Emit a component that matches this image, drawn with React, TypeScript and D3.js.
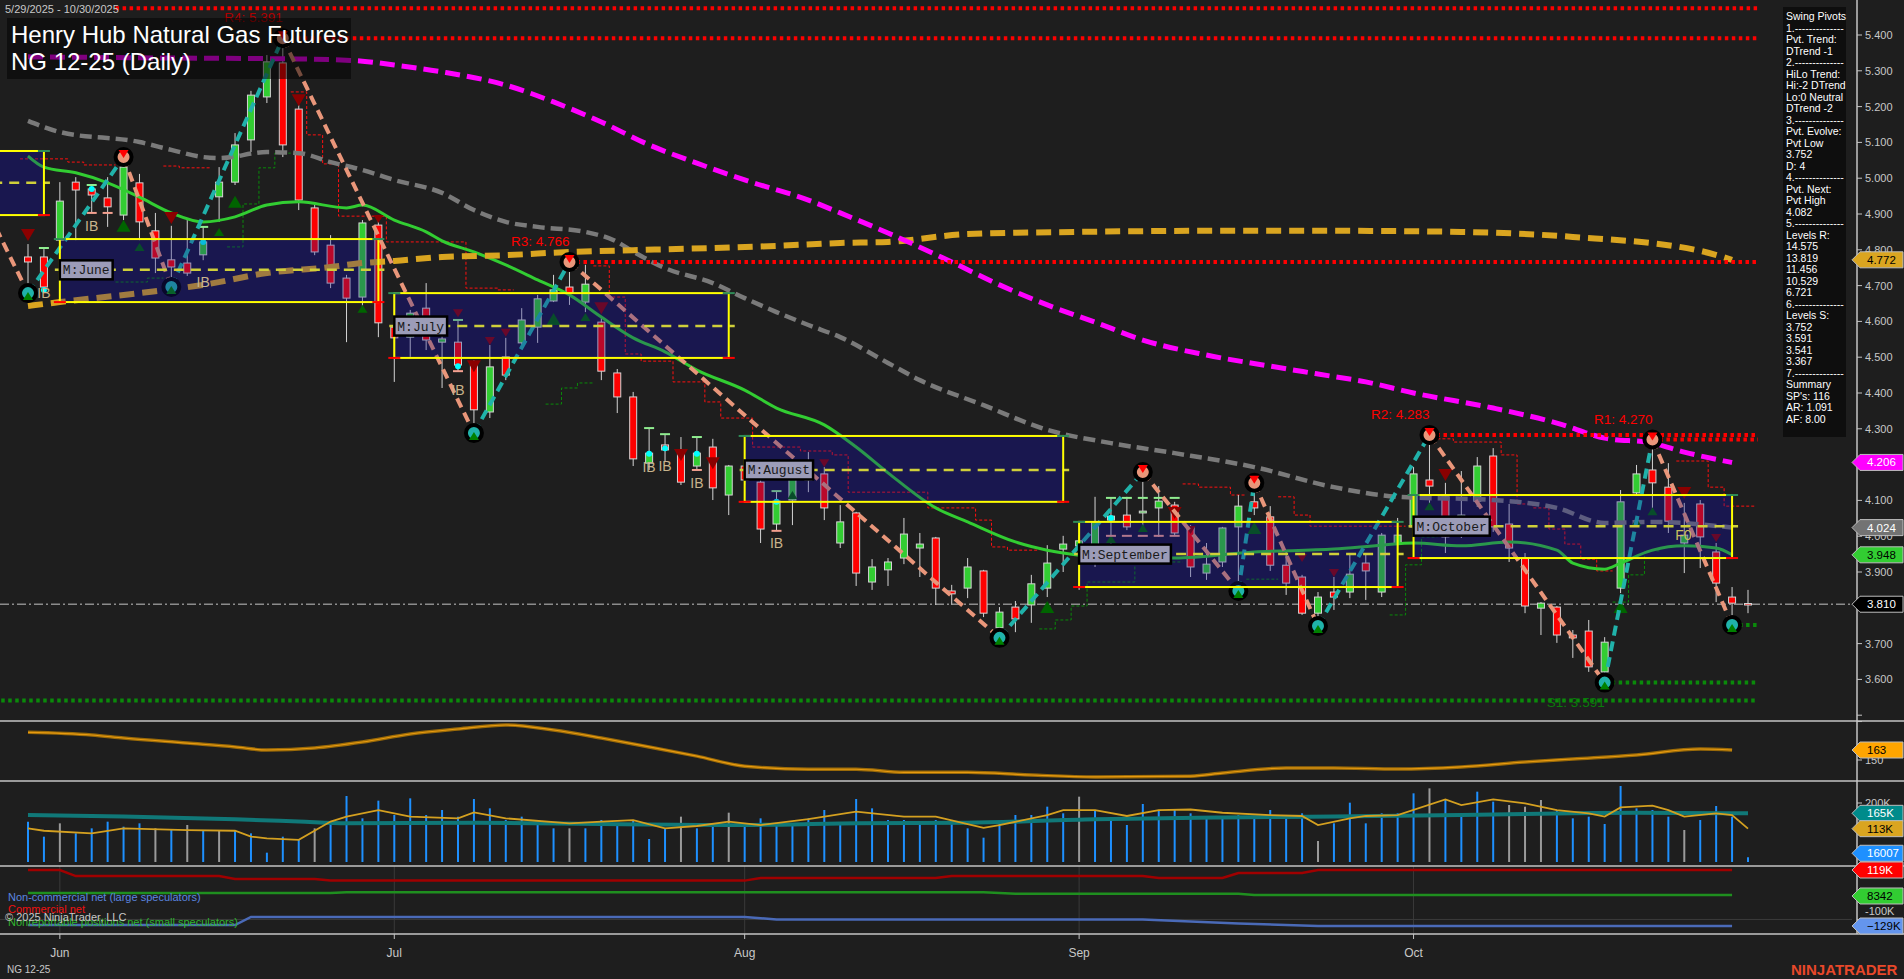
import { useEffect, useRef } from "react";
import * as d3 from "d3";

const W = 1904;
const H = 979;

// NG 12-25 daily bars, 5/29/2025 .. 10/30/2025 (bar index 0..108)
const opens = [
  4.780, 4.780, 4.827, 4.989, 4.970, 4.945, 4.897, 4.987, 4.853, 4.772,
  4.763, 4.786, 4.948, 4.989, 5.107, 5.227, 5.322, 5.193, 4.917, 4.813,
  4.721, 4.668, 4.869, 4.584, 4.556, 4.637, 4.542, 4.542, 4.487, 4.347,
  4.501, 4.540, 4.584, 4.657, 4.696, 4.654, 4.598, 4.456, 4.389, 4.204,
  4.255, 4.235, 4.196, 4.249, 4.115, 4.196, 4.151, 4.034, 4.101, 4.157,
  4.174, 3.981, 4.065, 3.872, 3.906, 3.939, 3.967, 3.995, 3.847, 3.855,
  3.903, 3.744, 3.802, 3.808, 3.855, 3.964, 3.973, 3.970, 4.045, 4.059,
  4.065, 4.079, 4.087, 4.026, 3.897, 3.928, 4.026, 4.096, 4.054, 3.919,
  3.886, 3.785, 3.844, 3.844, 3.925, 3.844, 3.978, 4.026, 4.157, 4.110,
  4.040, 4.098, 4.224, 4.034, 3.939, 3.799, 3.802, 3.724, 3.735, 3.621,
  3.855, 4.121, 4.185, 4.137, 3.981, 4.090, 3.956, 3.830, 3.812,
];
const highs = [
  4.816, 4.802, 4.989, 5.003, 4.981, 5.003, 5.059, 5.012, 4.903, 4.867,
  4.883, 4.864, 5.031, 5.126, 5.244, 5.344, 5.391, 5.204, 4.925, 4.841,
  4.730, 4.883, 4.892, 4.679, 4.632, 4.707, 4.584, 4.604, 4.492, 4.534,
  4.554, 4.637, 4.674, 4.730, 4.766, 4.758, 4.610, 4.467, 4.403, 4.302,
  4.283, 4.277, 4.277, 4.272, 4.199, 4.218, 4.165, 4.126, 4.185, 4.235,
  4.193, 4.087, 4.068, 3.936, 3.939, 4.051, 4.009, 3.998, 3.864, 3.939,
  3.906, 3.802, 3.819, 3.892, 3.975, 4.001, 4.003, 4.110, 4.107, 4.110,
  4.179, 4.140, 4.096, 4.031, 3.981, 4.026, 4.115, 4.149, 4.084, 3.956,
  3.892, 3.844, 3.886, 3.953, 3.948, 4.009, 4.051, 4.193, 4.283, 4.149,
  4.182, 4.221, 4.246, 4.090, 3.953, 3.816, 3.805, 3.738, 3.766, 3.718,
  4.129, 4.199, 4.270, 4.204, 4.093, 4.101, 3.981, 3.858, 3.850,
];
const lows = [
  4.679, 4.688, 4.791, 4.827, 4.903, 4.864, 4.883, 4.827, 4.735, 4.696,
  4.727, 4.771, 4.878, 4.981, 5.073, 5.210, 5.059, 4.911, 4.785, 4.693,
  4.542, 4.640, 4.556, 4.431, 4.501, 4.520, 4.414, 4.459, 4.288, 4.330,
  4.436, 4.534, 4.540, 4.654, 4.646, 4.626, 4.436, 4.344, 4.196, 4.185,
  4.207, 4.143, 4.185, 4.101, 4.059, 4.143, 3.981, 4.015, 4.031, 4.123,
  4.045, 3.967, 3.861, 3.850, 3.861, 3.922, 3.886, 3.808, 3.808, 3.827,
  3.774, 3.716, 3.732, 3.758, 3.830, 3.900, 3.850, 3.914, 3.975, 4.017,
  4.017, 3.998, 4.003, 3.886, 3.878, 3.914, 3.847, 4.059, 3.903, 3.836,
  3.780, 3.749, 3.794, 3.827, 3.822, 3.830, 3.961, 4.017, 4.087, 3.953,
  3.995, 4.082, 4.012, 3.928, 3.785, 3.724, 3.702, 3.660, 3.621, 3.590,
  3.841, 4.115, 4.073, 4.009, 3.897, 3.911, 3.816, 3.752, 3.785,
];
const closes = [
  4.766, 4.696, 4.936, 4.967, 4.953, 4.920, 5.031, 4.878, 4.777, 4.752,
  4.735, 4.822, 4.989, 5.093, 5.232, 5.325, 5.093, 4.939, 4.794, 4.707,
  4.665, 4.875, 4.596, 4.554, 4.623, 4.548, 4.551, 4.478, 4.353, 4.473,
  4.450, 4.604, 4.663, 4.688, 4.679, 4.704, 4.461, 4.389, 4.216, 4.232,
  4.241, 4.151, 4.232, 4.135, 4.196, 4.157, 4.020, 4.098, 4.165, 4.177,
  4.079, 4.040, 3.897, 3.914, 3.928, 4.006, 3.978, 3.855, 3.839, 3.914,
  3.785, 3.788, 3.769, 3.867, 3.925, 3.978, 3.987, 4.040, 4.056, 4.026,
  4.070, 4.098, 4.009, 3.914, 3.922, 4.023, 4.084, 4.079, 3.919, 3.869,
  3.785, 3.830, 3.830, 3.894, 3.903, 4.003, 4.003, 4.174, 4.140, 3.998,
  4.059, 4.196, 4.026, 3.967, 3.805, 3.813, 3.724, 3.716, 3.635, 3.704,
  4.096, 4.174, 4.149, 4.042, 4.003, 3.998, 3.869, 3.813, 3.810,
];

const monthLabels = ["Jun", "Jul", "Aug", "Sep", "Oct"];
const monthBars = [2, 23, 45, 66, 87];

// moving averages: [bar, price]
const maGreen = [
  [0, 5.062], [1, 5.031], [3, 5.015], [5, 4.987], [7, 4.947], [9, 4.903], [11, 4.878], [13, 4.892],
  [15, 4.925], [17, 4.934], [20, 4.917], [21, 4.925], [23, 4.883], [25, 4.850], [26, 4.825], [28, 4.794],
  [30, 4.758], [32, 4.716], [34, 4.674], [36, 4.612], [38, 4.554], [40, 4.515], [42, 4.464], [45, 4.408],
  [47, 4.358], [50, 4.311], [52, 4.249], [54, 4.177], [57, 4.079], [59, 4.040], [62, 3.984], [64, 3.961],
  [66, 3.947], [68, 3.939], [72, 3.939], [77, 3.956], [82, 3.964], [85, 3.975], [87, 3.981], [90, 3.973],
  [93, 3.984], [96, 3.961], [97, 3.925], [99, 3.908], [100, 3.925], [102, 3.961], [104, 3.973], [106, 3.967],
  [107, 3.948],
];
const maGray = [
  [0, 5.160], [2, 5.129], [7, 5.101], [9, 5.079], [11, 5.059], [12, 5.056], [15, 5.073], [17, 5.070],
  [19, 5.045], [21, 5.023], [23, 4.995], [26, 4.959], [28, 4.911], [30, 4.878], [32, 4.864], [35, 4.850],
  [37, 4.822], [38, 4.795], [40, 4.749], [43, 4.707], [45, 4.665], [47, 4.626], [49, 4.590], [51, 4.556],
  [54, 4.484], [56, 4.436], [60, 4.366], [64, 4.297], [68, 4.260], [72, 4.232], [77, 4.193], [82, 4.137],
  [86, 4.110], [92, 4.101], [96, 4.079], [99, 4.037], [102, 4.040], [107, 4.024],
];
const maGold = [
  [0, 4.643], [2, 4.654], [7, 4.679], [11, 4.702], [15, 4.735], [19, 4.752], [21, 4.763], [23, 4.769],
  [26, 4.780], [30, 4.785], [34, 4.794], [38, 4.799], [43, 4.805], [47, 4.811], [51, 4.819], [54, 4.822],
  [59, 4.844], [66, 4.850], [74, 4.853], [82, 4.853], [90, 4.850], [97, 4.836], [105, 4.797], [107, 4.772],
];
const maMagenta = [
  [0, 5.339], [8, 5.336], [17, 5.333], [21, 5.327], [23, 5.316], [26, 5.297], [30, 5.260], [33, 5.213],
  [36, 5.157], [39, 5.093], [42, 5.042], [45, 4.995], [49, 4.939], [51, 4.903], [54, 4.847], [58, 4.766],
  [61, 4.702], [64, 4.646], [67, 4.598], [70, 4.548], [74, 4.506], [78, 4.475], [81, 4.453], [84, 4.431],
  [87, 4.400], [92, 4.358], [96, 4.316], [99, 4.274], [102, 4.260], [104, 4.235], [107, 4.206],
];

// trailing stops (steps between bars)
const redStops = [
  [[-0.5, 5.054], [2.5, 5.045], [3.5, 5.037], [5.5, 5.037]],
  [[8.5, 5.034], [9.5, 5.029], [11.5, 5.029]],
  [[16.5, 5.241], [17.5, 5.121], [18.5, 5.040], [19.5, 4.894], [22.5, 4.822], [27.5, 4.693], [29.5, 4.688], [30.5, 4.688]],
  [[35.5, 4.755], [36.5, 4.668], [37.5, 4.509], [38.5, 4.489], [40.5, 4.431], [42.5, 4.375], [43.5, 4.330], [45.5, 4.249],
    [48.5, 4.238], [50.5, 4.227], [51.5, 4.123], [56.5, 4.079], [59.5, 4.045], [60.5, 3.970], [61.5, 3.961], [63.5, 3.961]],
  [[72.5, 4.146], [73.5, 4.137], [75.5, 4.115], [76.5, 4.115]],
  [[78.5, 4.110], [79.5, 4.059], [80.5, 4.028], [86.5, 4.028]],
  [[88.5, 4.272], [89.5, 4.263], [92.5, 4.227], [93.5, 4.090], [94.5, 4.079], [95.5, 4.020], [96.5, 3.978], [97.5, 3.936],
    [98.5, 3.903], [99.5, 3.903]],
  [[103.5, 4.210], [105.5, 4.137], [106.5, 4.084], [108.5, 4.084]],
];
const greenStops = [
  [[5.5, 4.710], [7.5, 4.721], [8.5, 4.721]],
  [[12.5, 4.808], [13.5, 4.928], [14.5, 5.029], [15.5, 5.070], [16.5, 5.070]],
  [[32.5, 4.369], [33.5, 4.414], [34.5, 4.428], [35.5, 4.428]],
  [[63.5, 3.741], [64.5, 3.766], [65.5, 3.805], [66.5, 3.872], [69.5, 3.928], [72.5, 3.928]],
  [[76.5, 3.880], [78.5, 3.880]],
  [[85.5, 3.780], [86.5, 3.920], [87.5, 3.998], [88.5, 3.998]],
  [[99.5, 3.816], [100.5, 3.892], [101.5, 3.959], [102.5, 3.959]],
];

// swing zigzag
const pivotBars = [-2, 0, 6, 9, 16, 28, 34, 61, 70, 76, 77, 81, 88, 99, 102, 107];
const pivotPrices = [4.86, 4.679, 5.059, 4.696, 5.391, 4.288, 4.766, 3.716, 4.179, 3.847, 4.149, 3.749, 4.283, 3.591, 4.270, 3.752];

// swing levels
const levelNames = ["", "R4: 5.391", "R3: 4.766", "R2: 4.283", "R1: 4.270", "S1: 3.591", "", ""];
const levelPrices = [5.475, 5.391, 4.766, 4.283, 4.270, 3.591, 3.541, 3.752];
const levelFrom = [5.5, 16, 34, 88, 102, 99, -3, 107];
const levelSide = ["R", "R", "R", "R", "R", "S", "S", "S"];

// monthly value boxes
const boxNames = ["", "M:June", "M:July", "M:August", "M:September", "M:October"];
const boxFrom = [-3, 2, 23, 45, 66, 87];
const boxTo = [1, 22, 44, 65, 86, 107];
const boxHigh = [5.076, 4.830, 4.679, 4.280, 4.040, 4.115];
const boxLow = [4.897, 4.654, 4.498, 4.096, 3.858, 3.939];
const boxMid = [4.987, 4.744, 4.587, 4.185, 3.950, 4.028];

// signals: [bar, price, strong]
const sigDown = [
  [0, 4.841, 1], [9, 4.889, 1], [17, 5.218, 1], [22, 4.886, 0], [27, 4.623, 0], [28, 4.475, 1], [29, 4.545, 0],
  [30, 4.568, 0], [36, 4.637, 1], [41, 4.227, 1], [43, 4.204, 1], [50, 4.204, 0], [72, 4.065, 1], [73, 4.017, 0],
  [80, 3.939, 0], [82, 3.897, 0], [89, 4.171, 1], [104, 4.121, 1], [106, 3.995, 0],
];
const sigUp = [
  [6, 4.867, 1], [7, 4.808, 0], [12, 4.850, 0], [13, 4.934, 1], [21, 4.635, 0], [33, 4.607, 1], [35, 4.612, 0],
  [48, 4.115, 0], [64, 3.802, 1], [68, 3.992, 0], [70, 4.023, 0], [77, 4.023, 1], [88, 4.084, 0], [100, 3.802, 1],
  [101, 4.040, 0], [102, 4.070, 0],
];
const ibBars = [[1, 4.679], [4, 4.866], [11, 4.710], [27, 4.408], [39, 4.193], [40, 4.196], [42, 4.149], [47, 3.981]];
const ibDots = [[1, 4.688], [4, 4.970], [11, 4.822], [27, 4.475], [39, 4.230], [40, 4.246], [42, 4.230], [47, 4.096], [68, 4.051]];
const ibHi = [[1, 4.805], [4, 4.981], [11, 4.864], [27, 4.604], [39, 4.302], [40, 4.285], [42, 4.277], [47, 4.126],
  [68, 4.107], [69, 4.107], [70, 4.107], [71, 4.107], [72, 4.107]];
const ibLo = [[4, 4.903], [5, 4.903], [27, 4.461], [42, 4.185], [47, 4.015],
  [68, 4.001], [69, 4.001], [70, 4.001], [71, 4.001], [72, 4.001]];

// lower panel: oscillator
const oscValues = [
  [0, 186], [4, 182.5], [6, 178.6], [10, 172], [13, 167], [15, 163], [18, 165.6], [21, 173.4], [24, 183.8],
  [27, 190.3], [30, 195.5], [33, 189], [36, 178.6], [39, 167], [42, 155], [45, 142], [49, 138], [52, 138],
  [55, 134], [59, 134], [63, 130.5], [67, 128], [73, 129], [75, 133], [79, 139.6], [82, 139.6], [86, 138.3],
  [90, 141], [94, 147.4], [97, 151.3], [101, 156.5], [105, 164.3], [107, 163],
];

// volume (thousands)
const volumes = [
  136.7, 85.9, 131.1, 97.2, 114.1, 136.7, 119.8, 131.1, 114.1, 108.5,
  125.4, 108.5, 108.5, 108.5, 97.2, 31.6, 85.9, 74.6, 114.1, 136.7,
  223.7, 148.0, 207.9, 159.3, 215.8, 159.3, 176.3, 153.7, 213.6, 181.9,
  142.4, 153.7, 125.4, 114.1, 114.1, 114.1, 142.4, 131.1, 142.4, 78.0,
  114.1, 153.7, 114.1, 119.8, 167.2, 131.1, 148.0, 131.1, 125.4, 148.0,
  176.3, 125.4, 213.6, 181.9, 142.4, 142.4, 136.7, 142.4, 131.1, 114.1,
  82.5, 136.7, 159.3, 159.3, 187.6, 165.0, 221.5, 176.3, 148.0, 125.4,
  196.6, 176.3, 176.3, 165.0, 148.0, 148.0, 159.3, 148.0, 176.3, 159.3,
  165.0, 71.2, 131.1, 201.1, 131.1, 165.0, 165.0, 232.8, 249.7, 212.4,
  165.0, 238.4, 204.5, 193.2, 187.6, 210.2, 176.3, 148.0, 153.7, 128.8,
  257.6, 181.9, 176.3, 153.7, 108.5, 142.4, 189.8, 153.7, 16.0,
];
const volGrayBars = [2, 8, 10, 12, 18, 34, 41, 44, 66, 81, 88, 93, 94, 95, 104];
const volFast = [
  [0, 114], [1, 106], [4, 97], [6, 114], [10, 108], [13, 106], [14, 86], [15, 80], [17, 75], [19, 137], [20, 154],
  [22, 176], [24, 154], [27, 148], [28, 168], [30, 148], [34, 131], [36, 137], [38, 142], [40, 114], [42, 122],
  [44, 137], [46, 125], [49, 145], [52, 171], [55, 154], [57, 154], [60, 116], [61, 125], [64, 159], [65, 176],
  [67, 176], [69, 156], [71, 176], [73, 178], [75, 167], [78, 159], [80, 156], [81, 125], [83, 148], [84, 156],
  [86, 159], [89, 212], [90, 193], [92, 212], [94, 199], [96, 176], [98, 165], [99, 154], [100, 185], [102, 191],
  [103, 176], [104, 154], [106, 165], [107, 159], [108, 113],
];
const volSlow = [
  [0, 159], [6, 154], [13, 145], [17, 137], [20, 131], [28, 133], [36, 129], [44, 125], [52, 131], [59, 133],
  [67, 145], [75, 151], [82, 154], [90, 159], [97, 165], [101, 167], [108, 165],
];

// COT (thousands of contracts)
const cotCommercial = [
  [0, 119], [2, 119], [3, 92], [12, 92], [13, 79], [18, 79], [19, 72], [45, 72], [46, 84], [57, 84], [58, 92],
  [70, 92], [71, 84], [75, 84], [76, 106], [80, 106], [81, 119], [107, 119],
];
const cotSmall = [[0, 17], [19, 17], [20, 21], [60, 21], [62, 14], [76, 14], [77, 8.3], [107, 8.3]];
const cotNonCommercial = [
  [0, -125], [13, -125], [14, -89], [45, -89], [47, -100], [70, -100], [76, -118], [81, -129], [107, -129],
];

const swingLines = [
  "Swing Pivots", "1.--------------", "Pvt. Trend:", "DTrend -1", "2.--------------", "HiLo Trend:",
  "Hi:-2 DTrend", "Lo:0 Neutral", "DTrend -2", "3.--------------", "Pvt. Evolve:", "Pvt Low", "3.752", "D: 4",
  "4.--------------", "Pvt. Next:", "Pvt High", "4.082", "5.--------------", "Levels R:", "14.575", "13.819",
  "11.456", "10.529", "6.721", "6.--------------", "Levels S:", "3.752", "3.591", "3.541", "3.367",
  "7.--------------", "Summary", "SP's: 116", "AR: 1.091", "AF: 8.00",
];

const draw = (el: SVGSVGElement) => {
  const svg = d3.select(el);
  svg.selectAll("*").remove();
  const font = "'Liberation Sans', Arial, sans-serif";
  const axisX = 1857;
  const pBot = 721;

  svg.append("rect").attr("width", W).attr("height", H).attr("fill", "#1e1e1e");

  const x = d3.scaleLinear().domain([0, 108]).range([28, 1748]);
  const y = d3.scaleLinear().domain([3.6, 5.4]).range([679.4, 35]);

  const defs = svg.append("defs");
  defs.append("clipPath").attr("id", "clipP").append("rect")
    .attr("x", 0).attr("y", 0).attr("width", axisX).attr("height", pBot);

  const g = svg.append("g").attr("clip-path", "url(#clipP)");

  const boxes = boxFrom.map((f, k) => ({
    f, t: boxTo[k], hi: boxHigh[k], lo: boxLow[k], mid: boxMid[k], name: boxNames[k],
  }));

  g.append("g").selectAll("rect").data(boxes).join("rect")
    .attr("x", (d) => x(d.f)).attr("y", (d) => y(d.hi))
    .attr("width", (d) => x(d.t) - x(d.f)).attr("height", (d) => y(d.lo) - y(d.hi))
    .attr("fill", "#191636");

  // trailing stops
  const stepLine = d3.line<number[]>().x((d) => x(d[0])).y((d) => y(d[1])).curve(d3.curveStepAfter);
  redStops.forEach((s) =>
    g.append("path").attr("d", stepLine(s)).attr("fill", "none")
      .attr("stroke", "#ff1010").attr("stroke-width", 1).attr("stroke-dasharray", "3,2"));
  greenStops.forEach((s) =>
    g.append("path").attr("d", stepLine(s)).attr("fill", "none")
      .attr("stroke", "#0a8a0a").attr("stroke-width", 1).attr("stroke-dasharray", "3,2"));

  // last price
  g.append("line").attr("x1", 0).attr("x2", axisX).attr("y1", y(closes[closes.length - 1]))
    .attr("y2", y(closes[closes.length - 1])).attr("stroke", "#8c8c8c").attr("stroke-width", 1.5)
    .attr("stroke-dasharray", "9,3,2,3");

  // candles
  const bars = opens.map((o, i) => ({ i, o, h: highs[i], l: lows[i], c: closes[i] }));
  g.append("g").selectAll("line").data(bars).join("line")
    .attr("x1", (d) => x(d.i)).attr("x2", (d) => x(d.i))
    .attr("y1", (d) => y(d.h)).attr("y2", (d) => y(d.l))
    .attr("stroke", "#d4d4d4").attr("stroke-width", 1);
  g.append("g").selectAll("rect").data(bars).join("rect")
    .attr("x", (d) => x(d.i) - 3.5).attr("width", 7)
    .attr("y", (d) => y(Math.max(d.o, d.c)))
    .attr("height", (d) => Math.max(1.5, Math.abs(y(d.o) - y(d.c))))
    .attr("fill", (d) => (d.c >= d.o ? "#32cd32" : "#ff0000"))
    .attr("stroke", "#d4d4d4").attr("stroke-width", 1);

  // moving averages
  const maLine = d3.line<number[]>().x((d) => x(d[0])).y((d) => y(d[1])).curve(d3.curveMonotoneX);
  g.append("path").attr("d", maLine(maGreen)).attr("fill", "none").attr("stroke", "#32cd32").attr("stroke-width", 3);
  g.append("path").attr("d", maLine(maGray)).attr("fill", "none").attr("stroke", "#7a7a7a")
    .attr("stroke-width", 4.5).attr("stroke-dasharray", "12,6");
  g.append("path").attr("d", maLine(maGold)).attr("fill", "none").attr("stroke", "#daa520")
    .attr("stroke-width", 6).attr("stroke-dasharray", "15,8");
  g.append("path").attr("d", maLine(maMagenta)).attr("fill", "none").attr("stroke", "#ff00ff")
    .attr("stroke-width", 5).attr("stroke-dasharray", "15,7");

  // levels
  levelPrices.forEach((p, k) => {
    g.append("line").attr("x1", x(levelFrom[k])).attr("x2", x(108) + 10)
      .attr("y1", y(p)).attr("y2", y(p))
      .attr("stroke", levelSide[k] === "R" ? "#ff0000" : "#0a8a0a")
      .attr("stroke-width", 4).attr("stroke-dasharray", "3.5,3.5");
  });

  // signals
  const tri = (cx: number, cy: number, big: number, down: boolean) => {
    const w = big ? 7 : 5;
    const h = big ? 12 : 8;
    return down
      ? `M${cx - w},${cy - h / 2}L${cx + w},${cy - h / 2}L${cx},${cy + h / 2}Z`
      : `M${cx - w},${cy + h / 2}L${cx + w},${cy + h / 2}L${cx},${cy - h / 2}Z`;
  };
  g.append("g").selectAll("path").data(sigDown).join("path")
    .attr("d", (d) => tri(x(d[0]), y(d[1]), d[2], true)).attr("fill", "#8b0000");
  g.append("g").selectAll("path").data(sigUp).join("path")
    .attr("d", (d) => tri(x(d[0]), y(d[1]), d[2], false)).attr("fill", "#006400");

  // IB marks
  g.append("g").selectAll("line").data(ibHi).join("line")
    .attr("x1", (d) => x(d[0]) - 5).attr("x2", (d) => x(d[0]) + 5)
    .attr("y1", (d) => y(d[1])).attr("y2", (d) => y(d[1]))
    .attr("stroke", "#90ee90").attr("stroke-width", 2);
  g.append("g").selectAll("line").data(ibLo).join("line")
    .attr("x1", (d) => x(d[0]) - 5).attr("x2", (d) => x(d[0]) + 5)
    .attr("y1", (d) => y(d[1])).attr("y2", (d) => y(d[1]))
    .attr("stroke", "#f4a090").attr("stroke-width", 2);
  g.append("g").selectAll("circle").data(ibDots).join("circle")
    .attr("cx", (d) => x(d[0])).attr("cy", (d) => y(d[1])).attr("r", 3).attr("fill", "#00ffff");

  // zigzag
  for (let k = 0; k < pivotBars.length - 1; k++) {
    const up = pivotPrices[k + 1] > pivotPrices[k];
    g.append("line")
      .attr("x1", x(pivotBars[k])).attr("y1", y(pivotPrices[k]))
      .attr("x2", x(pivotBars[k + 1])).attr("y2", y(pivotPrices[k + 1]))
      .attr("stroke", up ? "#20b2aa" : "#e9967a").attr("stroke-width", 4)
      .attr("stroke-dasharray", "10,6");
  }
  for (let k = 1; k < pivotBars.length; k++) {
    const hi = pivotPrices[k] > pivotPrices[k - 1];
    const cx = x(pivotBars[k]);
    const cy = y(pivotPrices[k]);
    g.append("circle").attr("cx", cx).attr("cy", cy).attr("r", 8)
      .attr("fill", hi ? "#e9967a" : "#20b2aa").attr("stroke", "#000").attr("stroke-width", 4);
    g.append("path").attr("d", tri(cx, hi ? cy - 3 : cy + 3, 0, hi)).attr("fill", hi ? "#ff0000" : "#008000");
  }

  // box overlay
  g.append("g").selectAll("rect").data(boxes).join("rect")
    .attr("x", (d) => x(d.f)).attr("y", (d) => y(d.hi))
    .attr("width", (d) => x(d.t) - x(d.f)).attr("height", (d) => y(d.lo) - y(d.hi))
    .attr("fill", "#1c1c8c").attr("fill-opacity", 0.3);
  boxes.forEach((b) => {
    const x0 = x(b.f), x1 = x(b.t), y0 = y(b.hi), y1 = y(b.lo);
    g.append("line").attr("x1", x0 - 5).attr("x2", x1 + 6).attr("y1", y(b.mid)).attr("y2", y(b.mid))
      .attr("stroke", "#cfcf3a").attr("stroke-width", 2.5).attr("stroke-dasharray", "10,7");
    g.append("rect").attr("x", x0).attr("y", y0).attr("width", x1 - x0).attr("height", y1 - y0)
      .attr("fill", "none").attr("stroke", "#ffff00").attr("stroke-width", 2);
    [x0, x1].forEach((xx) => {
      g.append("line").attr("x1", xx - 6).attr("x2", xx + 6).attr("y1", y0).attr("y2", y0)
        .attr("stroke", "#2e8b57").attr("stroke-width", 2);
      g.append("line").attr("x1", xx - 6).attr("x2", xx + 6).attr("y1", y1).attr("y2", y1)
        .attr("stroke", "#ff0000").attr("stroke-width", 2);
    });
    if (b.name) {
      const tw = b.name.length * 7.8 + 6;
      g.append("rect").attr("x", x0).attr("y", y(b.mid) - 9.5).attr("width", tw).attr("height", 19)
        .attr("fill", "#9c9cb8").attr("stroke", "#000").attr("stroke-width", 2.5);
      g.append("text").attr("x", x0 + 3).attr("y", y(b.mid) + 4.5).text(b.name)
        .attr("font-family", "'Liberation Mono', 'DejaVu Sans Mono', monospace").attr("font-size", 13)
        .attr("fill", "#1a1a1a");
    }
  });

  // IB labels
  g.append("g").selectAll("text").data(ibBars).join("text")
    .attr("x", (d) => x(d[0])).attr("y", (d) => y(d[1]) + 5).attr("text-anchor", "middle")
    .text("IB").attr("font-family", font).attr("font-size", 14).attr("fill", "#c8b48c");

  g.append("text").attr("x", x(104) - 9).attr("y", y(3.99)).text("F0")
    .attr("font-family", font).attr("font-size", 14).attr("fill", "#c8c060");

  // level labels
  levelNames.forEach((n, k) => {
    if (!n) return;
    const isR = levelSide[k] === "R";
    g.append("text").attr("x", x(levelFrom[k])).attr("y", isR ? y(levelPrices[k]) - 16 : y(levelPrices[k]) + 24)
      .attr("text-anchor", "end").text(n).attr("font-family", font).attr("font-size", 13.5)
      .attr("fill", isR ? (k === 1 ? "#b00000" : "#ff0000") : "#0a7a0a");
  });

  // title block
  svg.append("rect").attr("x", 7).attr("y", 18).attr("width", 344).attr("height", 61)
    .attr("fill", "#000").attr("fill-opacity", 0.5);
  svg.append("text").attr("x", 11).attr("y", 43).text("Henry Hub Natural Gas Futures")
    .attr("font-family", font).attr("font-size", 24).attr("fill", "#fff");
  svg.append("text").attr("x", 11).attr("y", 70).text("NG 12-25 (Daily)")
    .attr("font-family", font).attr("font-size", 24).attr("fill", "#fff");
  svg.append("text").attr("x", 5).attr("y", 13).text("5/29/2025 - 10/30/2025")
    .attr("font-family", font).attr("font-size", 11).attr("fill", "#c8c8c8");

  // swing pivots panel
  svg.append("rect").attr("x", 1783).attr("y", 7).attr("width", 63).attr("height", 430).attr("fill", "#0e0e0e");
  svg.append("g").selectAll("text").data(swingLines).join("text")
    .attr("x", 1786).attr("y", (d, i) => 20 + i * 11.5).text((d) => d)
    .attr("font-family", font).attr("font-size", 10.5).attr("fill", "#fff");

  // lower panels
  const yOsc = d3.scaleLinear().domain([150, 163]).range([760, 750]);
  const yVol = d3.scaleLinear().domain([0, 200]).range([862, 803]);
  const yCot = d3.scaleLinear().domain([-129, 119]).range([926, 870]);

  monthBars.forEach((m) => {
    svg.append("line").attr("x1", x(m)).attr("x2", x(m)).attr("y1", 866).attr("y2", 934)
      .attr("stroke", "#3a3a3a").attr("stroke-width", 1);
  });
  svg.append("line").attr("x1", 0).attr("x2", 1852).attr("y1", yCot(-100)).attr("y2", yCot(-100))
    .attr("stroke", "#3c3c3c").attr("stroke-width", 1);

  const oscLine = d3.line<number[]>().x((d) => x(d[0])).y((d) => yOsc(d[1])).curve(d3.curveMonotoneX);
  svg.append("path").attr("d", oscLine(oscValues)).attr("fill", "none").attr("stroke", "#9a6a08").attr("stroke-width", 3.5);
  svg.append("path").attr("d", oscLine(oscValues)).attr("fill", "none").attr("stroke", "#e89a10").attr("stroke-width", 1.2);

  svg.append("g").selectAll("line").data(volumes).join("line")
    .attr("x1", (d, i) => x(i)).attr("x2", (d, i) => x(i))
    .attr("y1", yVol(0)).attr("y2", (d) => yVol(d))
    .attr("stroke", (d, i) => (volGrayBars.includes(i) ? "#9a9a9a" : "#1e90ff")).attr("stroke-width", 2);
  const volLine = d3.line<number[]>().x((d) => x(d[0])).y((d) => yVol(d[1]));
  svg.append("path").attr("d", volLine.curve(d3.curveMonotoneX)(volSlow)).attr("fill", "none")
    .attr("stroke", "#107878").attr("stroke-width", 4);
  svg.append("path").attr("d", volLine.curve(d3.curveLinear)(volFast)).attr("fill", "none")
    .attr("stroke", "#d4a020").attr("stroke-width", 1.8);

  const cotLine = d3.line<number[]>().x((d) => x(d[0])).y((d) => yCot(d[1]));
  svg.append("path").attr("d", cotLine(cotCommercial)).attr("fill", "none").attr("stroke", "#a00000").attr("stroke-width", 2.5);
  svg.append("path").attr("d", cotLine(cotSmall)).attr("fill", "none").attr("stroke", "#1f8f1f").attr("stroke-width", 2.5);
  svg.append("path").attr("d", cotLine(cotNonCommercial)).attr("fill", "none").attr("stroke", "#4a6ab8").attr("stroke-width", 2.5);

  svg.append("text").attr("x", 8).attr("y", 901).text("Non-commercial net (large speculators)")
    .attr("font-family", font).attr("font-size", 11).attr("fill", "#5b86e0");
  svg.append("text").attr("x", 8).attr("y", 913).text("Commercial net")
    .attr("font-family", font).attr("font-size", 11).attr("fill", "#ee1010");
  svg.append("text").attr("x", 8).attr("y", 926).text("Nonreportable positions net (small speculators)")
    .attr("font-family", font).attr("font-size", 11).attr("fill", "#2fb52f");
  svg.append("text").attr("x", 5).attr("y", 921).text("© 2025 NinjaTrader, LLC")
    .attr("font-family", font).attr("font-size", 11).attr("fill", "#c8c8c8");

  // separators and axes
  [721, 781, 866, 934].forEach((yy) =>
    svg.append("line").attr("x1", 0).attr("x2", W).attr("y1", yy).attr("y2", yy)
      .attr("stroke", "#c4c4c4").attr("stroke-width", 1.5));
  svg.append("line").attr("x1", axisX).attr("x2", axisX).attr("y1", 0).attr("y2", 934)
    .attr("stroke", "#c4c4c4").attr("stroke-width", 1.5);

  const priceTicks = d3.range(3.5, 5.41, 0.1);
  priceTicks.forEach((t) => {
    svg.append("line").attr("x1", axisX).attr("x2", axisX + 5).attr("y1", y(t)).attr("y2", y(t))
      .attr("stroke", "#c4c4c4");
    if (y(t) < 705)
      svg.append("text").attr("x", 1865).attr("y", y(t) + 4).text(d3.format(".3f")(t))
        .attr("font-family", font).attr("font-size", 11).attr("fill", "#c8c8c8");
  });
  [[yOsc(150), "150", 4], [yOsc(200), "", 0], [yVol(200), "200K", 4], [yCot(100), "100K", 4], [yCot(-100), "-100K", -4]]
    .forEach(([yy, t, dy]) => {
      svg.append("line").attr("x1", axisX).attr("x2", axisX + 5).attr("y1", yy).attr("y2", yy).attr("stroke", "#c4c4c4");
      if (t) svg.append("text").attr("x", 1865).attr("y", +yy + +dy).text(t as string)
        .attr("font-family", font).attr("font-size", 11).attr("fill", "#c8c8c8");
    });

  monthBars.forEach((m, k) => {
    svg.append("line").attr("x1", x(m)).attr("x2", x(m)).attr("y1", 934).attr("y2", 939).attr("stroke", "#c4c4c4");
    svg.append("text").attr("x", x(m)).attr("y", 957).attr("text-anchor", "middle").text(monthLabels[k])
      .attr("font-family", font).attr("font-size", 12).attr("fill", "#c8c8c8");
  });
  svg.append("text").attr("x", 7).attr("y", 973).text("NG 12-25")
    .attr("font-family", font).attr("font-size", 10).attr("fill", "#c8c8c8");
  svg.append("text").attr("x", 1791).attr("y", 975).text("NINJATRADER")
    .attr("font-family", font).attr("font-size", 15).attr("font-weight", 700).attr("fill", "#e8482a");

  // value flags
  const flag = (yy: number, text: string, bg: string, fg: string) => {
    svg.append("path")
      .attr("d", `M${axisX - 5},${yy}L${axisX + 3},${yy - 8}L${W - 1},${yy - 8}L${W - 1},${yy + 8}L${axisX + 3},${yy + 8}Z`)
      .attr("fill", bg).attr("stroke", "#bdbdbd").attr("stroke-width", 1);
    svg.append("text").attr("x", 1867).attr("y", yy + 4).text(text)
      .attr("font-family", font).attr("font-size", 11.5).attr("fill", fg);
  };
  const last = (a: number[][]) => a[a.length - 1][1];
  flag(y(last(maGold)), d3.format(".3f")(last(maGold)), "#daa520", "#000");
  flag(y(last(maMagenta)), d3.format(".3f")(last(maMagenta)), "#ff00ff", "#fff");
  flag(y(last(maGray)), d3.format(".3f")(last(maGray)), "#737373", "#fff");
  flag(y(last(maGreen)), d3.format(".3f")(last(maGreen)), "#32cd32", "#000");
  flag(y(closes[closes.length - 1]), d3.format(".3f")(closes[closes.length - 1]), "#000", "#fff");
  flag(yOsc(last(oscValues)), d3.format(".0f")(last(oscValues)), "#ffa500", "#000");
  flag(yVol(last(volSlow)), `${d3.format(".0f")(last(volSlow))}K`, "#008b8b", "#fff");
  flag(yVol(last(volFast)), `${d3.format(".0f")(last(volFast))}K`, "#daa520", "#000");
  flag(yVol(volumes[volumes.length - 1]) - 4, "16007", "#1e90ff", "#fff");
  flag(yCot(last(cotCommercial)), `${d3.format(".0f")(last(cotCommercial))}K`, "#ff0000", "#fff");
  flag(yCot(last(cotSmall)) + 1, "8342", "#32cd32", "#000");
  flag(yCot(last(cotNonCommercial)), `${d3.format(".0f")(last(cotNonCommercial))}K`, "#6495ed", "#000");
};

export default function App() {
  const ref = useRef<SVGSVGElement>(null);
  useEffect(() => {
    if (ref.current) draw(ref.current);
  }, []);
  return (
    <svg
      ref={ref}
      width={W}
      height={H}
      style={{ position: "absolute", left: 0, top: 0, display: "block" }}
    />
  );
}
